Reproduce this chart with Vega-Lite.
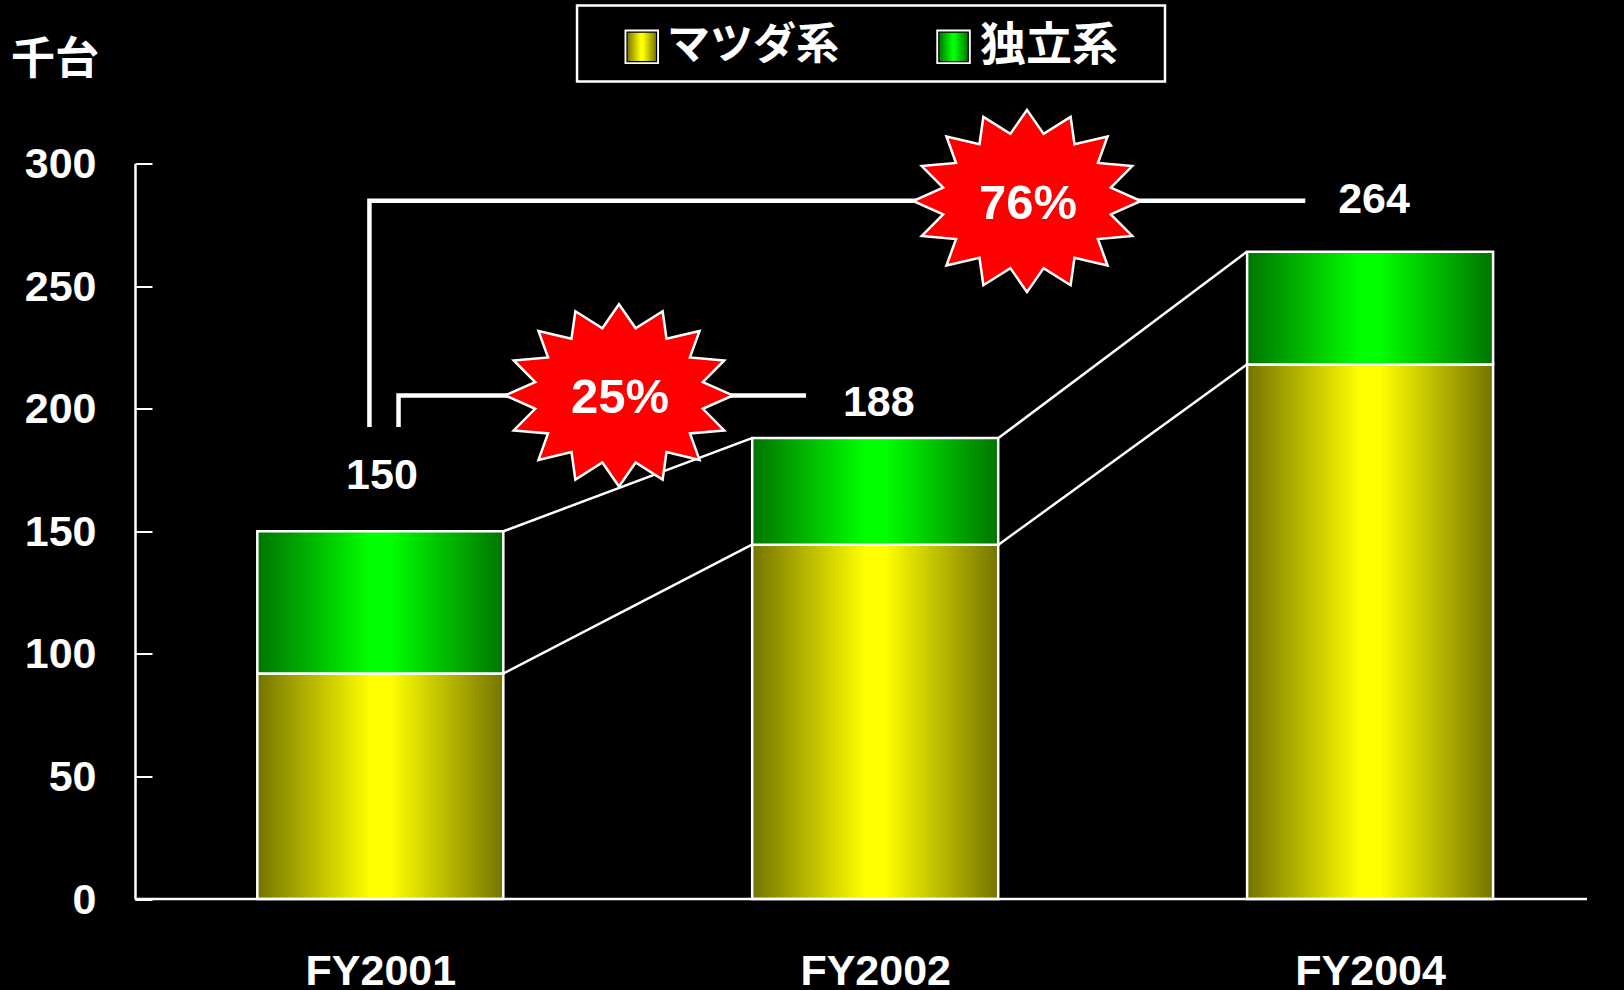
{
"$schema":"https://vega.github.io/schema/vega-lite/v6.json",
"width":1481,"height":735.5,
"autosize":{"type":"none"},
"padding":{"left":135,"top":163.5,"right":8,"bottom":91},
"background":"#000000",
"config":{"view":{"stroke":null}},
"datasets":{
"barsMazda":[
{"FY":"FY2001","pos":0,"series":"マツダ系","base":0,"top":92},
{"FY":"FY2002","pos":1,"series":"マツダ系","base":0,"top":144.5},
{"FY":"FY2004","pos":2,"series":"マツダ系","base":0,"top":218}],
"barsIndep":[
{"FY":"FY2001","pos":0,"series":"独立系","base":92,"top":150},
{"FY":"FY2002","pos":1,"series":"独立系","base":144.5,"top":188},
{"FY":"FY2004","pos":2,"series":"独立系","base":218,"top":264}],
"connectors":[
{"line":"a","i":1,"x":0.249,"y":150},{"line":"a","i":2,"x":0.751,"y":188},
{"line":"b","i":1,"x":1.249,"y":188},{"line":"b","i":2,"x":1.751,"y":264},
{"line":"c","i":1,"x":0.249,"y":92},{"line":"c","i":2,"x":0.751,"y":144.5},
{"line":"d","i":1,"x":1.249,"y":144.5},{"line":"d","i":2,"x":1.751,"y":218}],
"brackets":[
{"line":"76","i":1,"x":-0.022,"y":192.5},{"line":"76","i":2,"x":-0.022,"y":284.8},{"line":"76","i":3,"x":1.8691,"y":284.8},
{"line":"25","i":1,"x":0.0368,"y":192.5},{"line":"25","i":2,"x":0.0368,"y":205.4},{"line":"25","i":3,"x":0.8602,"y":205.4}],
"stars":[{"x":0.4823,"y":205.4,"label":"25%"},{"x":1.3067,"y":284.7,"label":"76%"}],
"totals":[{"x":0.0034,"y":173.4,"label":"150"},{"x":1.0073,"y":203,"label":"188"},{"x":2.0079,"y":286,"label":"264"}],
"baseline":[{"x":-0.4957,"x2":2.4382,"y":0}],
"legendBox":[{"x":0.3975,"x2":1.5856,"y":364.4,"y2":333.4}],
"legendSwatches":[{"x":0.5283,"y":347.6},{"x":1.1583,"y":347.6}],
"legendMazda":[{"x":0.5283,"y":347.6}],
"legendIndep":[{"x":1.1583,"y":347.6}],
"labelMazda":[{"x":0.5793,"y":348,"label":"マツダ系"}],
"labelIndep":[{"x":1.2118,"y":348,"label":"独立系"}]
},
"layer":[
{"data":{"name":"connectors"},"mark":{"type":"line","stroke":"#ffffff","strokeWidth":2.5},
 "encoding":{"x":{"field":"x","type":"quantitative","title":null,"scale":{"domain":[-0.4957,2.4969],"nice":false,"zero":false,"padding":0},
   "axis":{"values":[0,1,2],"labelExpr":"datum.value==0?'FY2001':datum.value==1?'FY2002':'FY2004'","domain":false,"ticks":false,"grid":false,"labelAngle":0,"labelFont":"Liberation Sans","labelFontWeight":"bold","labelFontSize":43,"labelColor":"#ffffff","labelPadding":51}},
  "y":{"field":"y","type":"quantitative","scale":{"domain":[0,300],"nice":false},
   "axis":{"title":"千台","titleAngle":0,"titleX":-80.5,"titleY":-103,"titleAlign":"center","titleBaseline":"middle","titleFont":"Noto Sans CJK JP","titleFontWeight":"bold","titleFontSize":44,"titleColor":"#ffffff",
    "values":[0,50,100,150,200,250,300],"grid":false,"domainColor":"#ffffff","domainWidth":2.5,"tickColor":"#ffffff","tickWidth":2,"tickSize":-17,"labelPadding":56,"labelOffset":1,"labelFont":"Liberation Sans","labelFontWeight":"bold","labelFontSize":43,"labelColor":"#ffffff"}},
  "detail":{"field":"line"},"order":{"field":"i"}}},
{"data":{"name":"barsMazda"},"mark":{"type":"bar","orient":"vertical","width":246,"stroke":"#ffffff","strokeWidth":2.5,
  "fill":{"gradient":"linear","x1":0,"y1":0,"x2":1,"y2":0,"stops":[{"offset":0,"color":"#747400"},{"offset":0.46,"color":"#ffff00"},{"offset":0.54,"color":"#ffff00"},{"offset":1,"color":"#747400"}]}},
 "encoding":{"x":{"field":"pos","type":"quantitative"},"y":{"field":"top","type":"quantitative"},"y2":{"field":"base"}}},
{"data":{"name":"barsIndep"},"mark":{"type":"bar","orient":"vertical","width":246,"stroke":"#ffffff","strokeWidth":2.5,
  "fill":{"gradient":"linear","x1":0,"y1":0,"x2":1,"y2":0,"stops":[{"offset":0,"color":"#007400"},{"offset":0.46,"color":"#00ff00"},{"offset":0.54,"color":"#00ff00"},{"offset":1,"color":"#007400"}]}},
 "encoding":{"x":{"field":"pos","type":"quantitative"},"y":{"field":"top","type":"quantitative"},"y2":{"field":"base"}}},
{"data":{"name":"baseline"},"mark":{"type":"rule","stroke":"#ffffff","strokeWidth":2.5},
 "encoding":{"x":{"field":"x","type":"quantitative"},"x2":{"field":"x2"},"y":{"field":"y","type":"quantitative"}}},
{"data":{"name":"legendBox"},"mark":{"type":"rect","fill":null,"stroke":"#ffffff","strokeWidth":2.5},
 "encoding":{"x":{"field":"x","type":"quantitative"},"x2":{"field":"x2"},"y":{"field":"y","type":"quantitative"},"y2":{"field":"y2"}}},
{"data":{"name":"legendSwatches"},"mark":{"type":"point","filled":true,"shape":"square","size":1190,"opacity":1,"fill":"#ffffff"},
 "encoding":{"x":{"field":"x","type":"quantitative"},"y":{"field":"y","type":"quantitative"}}},
{"data":{"name":"legendMazda"},"mark":{"type":"point","filled":true,"shape":"square","size":870,"opacity":1,"stroke":"#000000","strokeWidth":1.2,
  "fill":{"gradient":"linear","x1":0,"y1":0,"x2":1,"y2":0,"stops":[{"offset":0,"color":"#747400"},{"offset":0.46,"color":"#ffff00"},{"offset":0.54,"color":"#ffff00"},{"offset":1,"color":"#747400"}]}},
 "encoding":{"x":{"field":"x","type":"quantitative"},"y":{"field":"y","type":"quantitative"}}},
{"data":{"name":"legendIndep"},"mark":{"type":"point","filled":true,"shape":"square","size":870,"opacity":1,"stroke":"#000000","strokeWidth":1.2,
  "fill":{"gradient":"linear","x1":0,"y1":0,"x2":1,"y2":0,"stops":[{"offset":0,"color":"#007400"},{"offset":0.46,"color":"#00ff00"},{"offset":0.54,"color":"#00ff00"},{"offset":1,"color":"#007400"}]}},
 "encoding":{"x":{"field":"x","type":"quantitative"},"y":{"field":"y","type":"quantitative"}}},
{"data":{"name":"labelMazda"},"mark":{"type":"text","font":"Noto Sans CJK JP","fontWeight":"bold","fontSize":43,"fill":"#ffffff","baseline":"middle","align":"left"},
 "encoding":{"x":{"field":"x","type":"quantitative"},"y":{"field":"y","type":"quantitative"},"text":{"field":"label"}}},
{"data":{"name":"labelIndep"},"mark":{"type":"text","font":"Noto Sans CJK JP","fontWeight":"bold","fontSize":46,"fill":"#ffffff","baseline":"middle","align":"left"},
 "encoding":{"x":{"field":"x","type":"quantitative"},"y":{"field":"y","type":"quantitative"},"text":{"field":"label"}}},
{"data":{"name":"brackets"},"mark":{"type":"line","stroke":"#ffffff","strokeWidth":4.5,"strokeJoin":"miter","strokeCap":"butt"},
 "encoding":{"x":{"field":"x","type":"quantitative"},"y":{"field":"y","type":"quantitative"},"detail":{"field":"line"},"order":{"field":"i"}}},
{"data":{"name":"stars"},"mark":{"type":"point","filled":true,"fill":"#ff0000","fillOpacity":1,"opacity":1,"stroke":"#ffffff","strokeWidth":2.5,"strokeOpacity":1,"size":51900,"shape":"M0,-.8 L.146,-.589 L.383,-.739 L.417,-.498 L.707,-.566 L.623,-.334 L.924,-.307 L.736,-.117 L1,0 L.736,.117 L.924,.307 L.623,.334 L.707,.566 L.417,.498 L.383,.739 L.146,.589 L0,.8 L-.146,.589 L-.383,.739 L-.417,.498 L-.707,.566 L-.623,.334 L-.924,.307 L-.736,.117 L-1,0 L-.736,-.117 L-.924,-.307 L-.623,-.334 L-.707,-.566 L-.417,-.498 L-.383,-.739 L-.146,-.589 Z"},
 "encoding":{"x":{"field":"x","type":"quantitative"},"y":{"field":"y","type":"quantitative"}}},
{"data":{"name":"stars"},"mark":{"type":"text","font":"Liberation Sans","fontWeight":"bold","fontSize":49,"fill":"#ffffff","baseline":"middle","align":"center","dx":1,"dy":2.5},
 "encoding":{"x":{"field":"x","type":"quantitative"},"y":{"field":"y","type":"quantitative"},"text":{"field":"label"}}},
{"data":{"name":"totals"},"mark":{"type":"text","font":"Liberation Sans","fontWeight":"bold","fontSize":43,"fill":"#ffffff","baseline":"middle","align":"center","dy":2},
 "encoding":{"x":{"field":"x","type":"quantitative"},"y":{"field":"y","type":"quantitative"},"text":{"field":"label"}}}
]
}
